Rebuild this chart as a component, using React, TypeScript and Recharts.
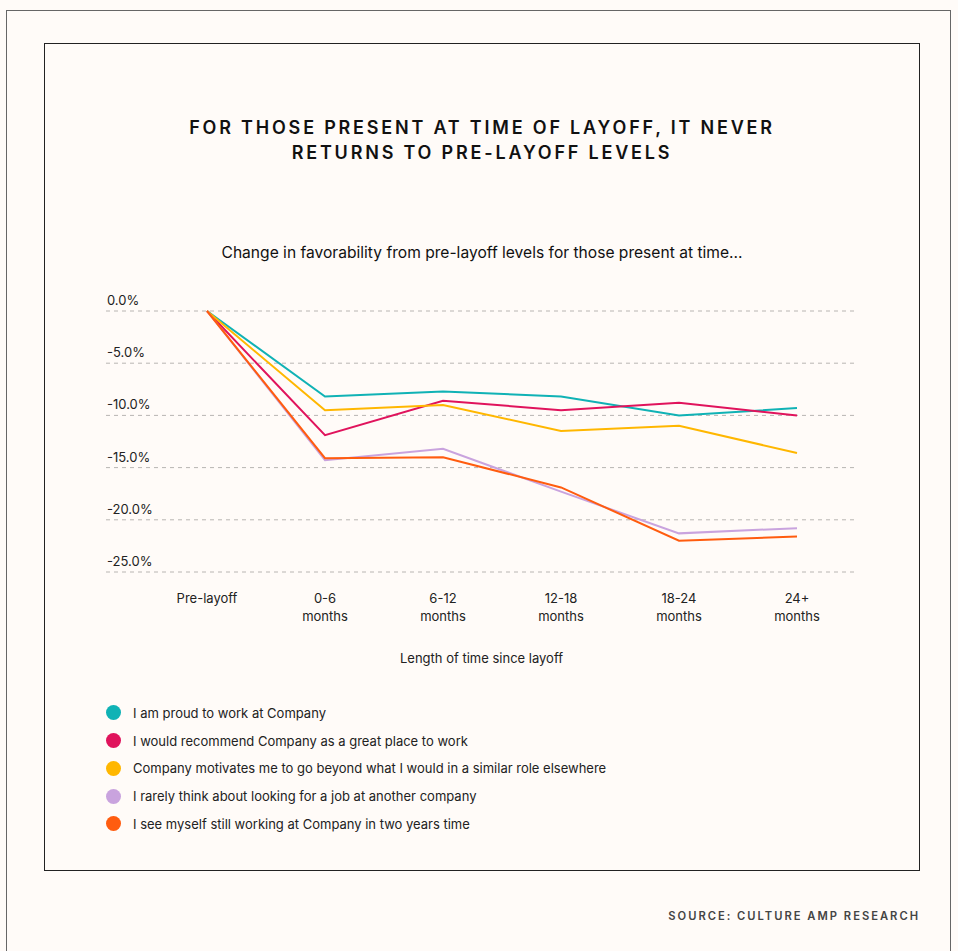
import React from 'react';
import { LineChart, Line, XAxis, YAxis, CartesianGrid } from 'recharts';

// categories and tick labels
const periods = ['Pre-layoff', '0-6\nmonths', '6-12\nmonths', '12-18\nmonths', '18-24\nmonths', '24+\nmonths'];
const yTicks = [0, -5, -10, -15, -20, -25];

// series values (% change vs pre-layoff)
const proud = [0, -8.2, -7.7, -8.2, -10.0, -9.3];
const recommend = [0, -11.9, -8.6, -9.5, -8.8, -10.0];
const motivates = [0, -9.5, -9.0, -11.5, -11.0, -13.6];
const rarelyLook = [0, -14.3, -13.2, -17.3, -21.3, -20.8];
const stillWorking = [0, -14.1, -14.0, -16.9, -22.0, -21.6];

const series = [
  { key: 'proud', name: 'I am proud to work at Company', color: '#10b2b5', values: proud },
  { key: 'recommend', name: 'I would recommend Company as a great place to work', color: '#e0135c', values: recommend },
  { key: 'motivates', name: 'Company motivates me to go beyond what I would in a similar role elsewhere', color: '#ffb700', values: motivates },
  { key: 'rarelyLook', name: 'I rarely think about looking for a job at another company', color: '#c9a3de', values: rarelyLook },
  { key: 'stillWorking', name: 'I see myself still working at Company in two years time', color: '#ff5c0f', values: stillWorking },
];

const data = periods.map((p, i) => {
  const row: any = { period: p };
  series.forEach(s => { row[s.key] = s.values[i]; });
  return row;
});

const FONT = 'Inter, "Noto Sans", sans-serif';
const BG = '#fffbf8';

const YTick = (props: any) => {
  const { y, payload } = props;
  return (
    <text x={107} y={y - 6} textAnchor="start" fontSize={13} fill="#222" fontFamily={FONT}>
      {Number(payload.value).toFixed(1) + '%'}
    </text>
  );
};

const XTick = (props: any) => {
  const { x, y, payload } = props;
  const lines = String(payload.value).split('\n');
  return (
    <text x={x} y={y} textAnchor="middle" fontSize={13} fill="#222" fontFamily={FONT}>
      {lines.map((l, i) => (
        <tspan key={i} x={x} dy={i === 0 ? 23 : 18}>{l}</tspan>
      ))}
    </text>
  );
};

export default function App() {
  return (
    <div style={{ position: 'absolute', left: 0, top: 0, width: 958, height: 951, overflow: 'hidden', background: BG, fontFamily: FONT }}>
      {/* outer frame */}
      <div style={{ position: 'absolute', left: 6, top: 10, width: 945, height: 1000, border: '1px solid #666', boxSizing: 'border-box' }} />
      {/* inner frame */}
      <div style={{ position: 'absolute', left: 44, top: 43, width: 876, height: 828, border: '1px solid #222', boxSizing: 'border-box' }} />

      <div style={{ position: 'absolute', left: 44, top: 115, width: 876, textAlign: 'center', fontSize: 18, fontWeight: 600, letterSpacing: 2.8, lineHeight: '25px', color: '#111' }}>
        FOR THOSE PRESENT AT TIME OF LAYOFF, IT NEVER<br />RETURNS TO PRE-LAYOFF LEVELS
      </div>
      <div style={{ position: 'absolute', left: 44, top: 243, width: 876, textAlign: 'center', fontSize: 15.6, color: '#111' }}>
        Change in favorability from pre-layoff levels for those present at time...
      </div>

      <div style={{ position: 'absolute', left: 0, top: 0 }}>
        <LineChart width={958} height={951} data={data} margin={{ top: 311, right: 101, bottom: 319, left: 105 }}>
          <CartesianGrid vertical={false} stroke="#b8b5b2" strokeDasharray="4 4" />
          <XAxis dataKey="period" axisLine={false} tickLine={false} tick={<XTick />} padding={{ left: 101, right: 60 }} interval={0} height={60} />
          <YAxis type="number" domain={[-25, 0]} ticks={yTicks} axisLine={false} tickLine={false} tick={<YTick />} width={1} interval={0} />
          {series.map(s => (
            <Line key={s.key} type="linear" dataKey={s.key} name={s.name} stroke={s.color} strokeWidth={2} dot={false} activeDot={false} isAnimationActive={false} />
          ))}
        </LineChart>
      </div>

      <div style={{ position: 'absolute', left: 106, top: 650, width: 751, textAlign: 'center', fontSize: 13, color: '#222' }}>
        Length of time since layoff
      </div>

      <div style={{ position: 'absolute', left: 106, top: 699 }}>
        {series.map(s => (
          <div key={s.key} style={{ display: 'flex', alignItems: 'center', height: 27.75 }}>
            <span style={{ width: 15, height: 15, borderRadius: '50%', background: s.color, display: 'inline-block' }} />
            <span style={{ marginLeft: 12, fontSize: 13, color: '#222' }}>{s.name}</span>
          </div>
        ))}
      </div>

      <div style={{ position: 'absolute', right: 38, top: 909, fontSize: 11.2, fontWeight: 600, letterSpacing: 2, color: '#444' }}>
        SOURCE: CULTURE AMP RESEARCH
      </div>
    </div>
  );
}
